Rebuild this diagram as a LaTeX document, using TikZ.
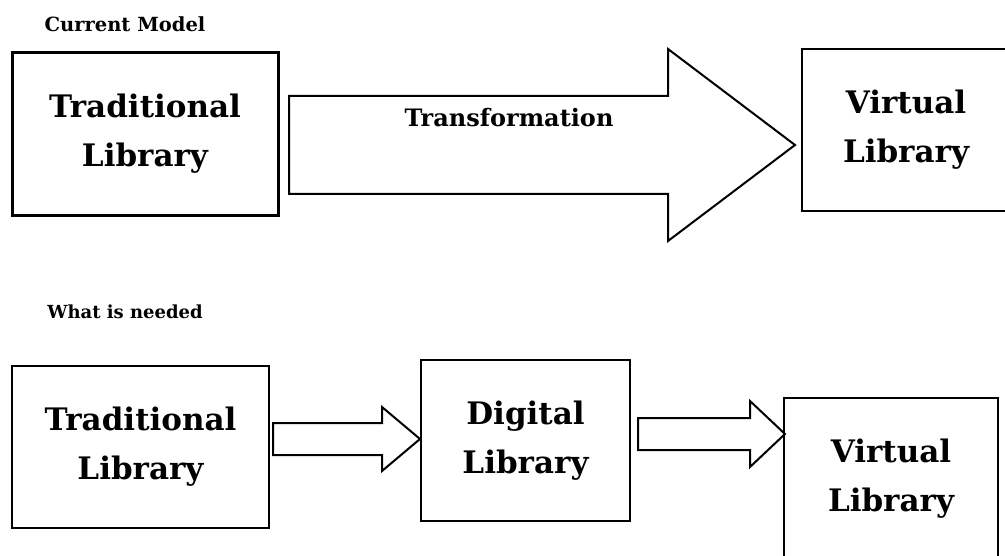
\documentclass[tikz,border=0pt]{standalone}
\usepackage{fontspec}
\setmainfont{DejaVu Serif}
\usetikzlibrary{calc}

\tikzset{
  libbox/.style={draw, line width=2pt, align=center, inner sep=0pt,
    font=\fontsize{31}{49}\selectfont\bfseries},
  caption/.style={inner sep=0pt, font=\fontsize{18}{20}\selectfont\bfseries},
  arrowline/.style={draw, line width=2pt, line join=miter}
}

\newcommand{\fatarrow}[5]{%
  \draw[arrowline] let \p1=(#1), \p2=(#2) in
    (\x1,\y2+#3) -- (\x2-#5,\y2+#3) -- (\x2-#5,\y2+#4) -- (\x2,\y2) --
    (\x2-#5,\y2-#4) -- (\x2-#5,\y2-#3) -- (\x1,\y2-#3) -- cycle;}

\begin{document}
\begin{tikzpicture}[x=1pt,y=-1pt]
\useasboundingbox (0,0) rectangle (1005,556);

\node[caption, font=\fontsize{19.5}{21}\selectfont\bfseries] (cur) at (125,24) {Current Model};
\node[libbox, line width=3pt, minimum width=266, minimum height=163] (trad1) at (145,134) {Traditional\\Library};
\node[libbox, minimum width=208, minimum height=162] (virt1) at (906,130) {Virtual\\Library};
\coordinate (s1) at (289,145);
\coordinate (e1) at (795,145);
\fatarrow{s1}{e1}{49pt}{96pt}{127pt}
\node[caption, font=\fontsize{24}{26}\selectfont\bfseries] (trans) at (509,118) {Transformation};

\node[caption] (need) at (125,312) {What is needed};
\node[libbox, minimum width=257, minimum height=162] (trad2) at (140.5,447) {Traditional\\Library};
\node[libbox, minimum width=209, minimum height=161] (dig) at (525.5,440.5) {Digital\\Library};
\node[libbox, minimum width=214, minimum height=162] (virt2) at (891,479) {Virtual\\Library};
\coordinate (s2) at (273,439);
\coordinate (e2) at (420,439);
\fatarrow{s2}{e2}{16pt}{32pt}{38pt}
\coordinate (s3) at (638,434);
\coordinate (e3) at (785,434);
\fatarrow{s3}{e3}{16pt}{33pt}{35pt}
\end{tikzpicture}
\end{document}
